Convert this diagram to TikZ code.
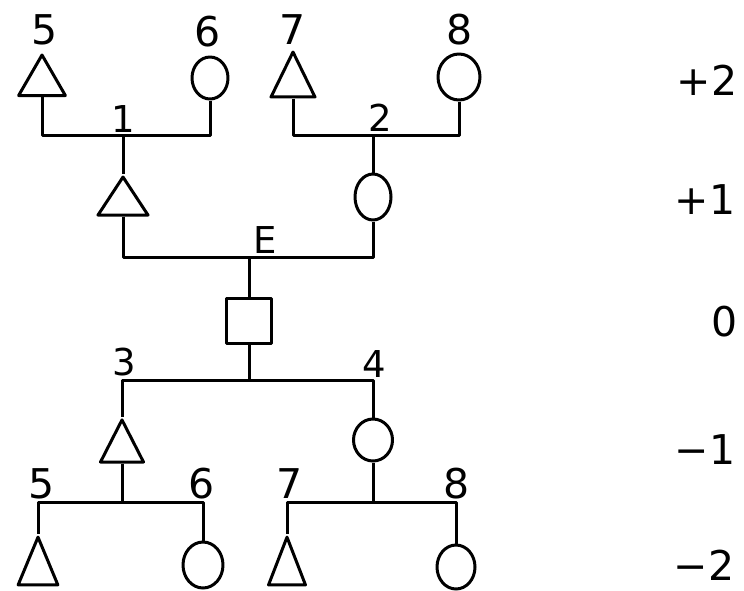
\documentclass[tikz,border=0pt]{standalone}
\usepackage{fontspec}
\setmainfont{DejaVu Sans}
\usetikzlibrary{shapes.geometric}
\begin{document}
\begin{tikzpicture}[x=1pt,y=-1pt,
  line width=3pt, line join=round,
  male/.style={draw, regular polygon, regular polygon sides=3,
    minimum size=54pt, inner sep=0pt},
  female/.style={draw, ellipse, inner sep=0pt},
  ego/.style={draw, rectangle, inner sep=0pt, minimum width=45pt, minimum height=45pt},
  lbl/.style={inner sep=0pt, font=\fontsize{41}{41}\selectfont},
  slbl/.style={inner sep=0pt, font=\fontsize{37}{37}\selectfont}]
\useasboundingbox (0,0) rectangle (744,590);

% generation +2
\node[male] (t5a) at (42,82) {};
\node[female, minimum width=36pt, minimum height=42pt] (c6a) at (210,78) {};
\node[male, xscale=0.94, yscale=1.11] (t7a) at (293,82) {};
\node[female, minimum width=42pt, minimum height=46pt] (c8a) at (459,77) {};

% generation +1
\node[male, xscale=1.07, yscale=0.94] (t1) at (123,202.4) {};
\node[female, minimum width=36pt, minimum height=46pt] (c2) at (373,197) {};

% ego
\node[ego] (ego) at (249,320.5) {};

% generation -1
\node[male, xscale=0.92, yscale=1.04] (t3) at (122,448) {};
\node[female, minimum width=39pt, minimum height=42pt] (c4) at (373,440) {};

% generation -2
\node[male, xscale=0.85, yscale=1.18] (t5b) at (38,569) {};
\node[female, minimum width=40pt, minimum height=46pt] (c6b) at (203,565) {};
\node[male, xscale=0.79, yscale=1.18] (t7b) at (287,569) {};
\node[female, minimum width=38pt, minimum height=44pt] (c8b) at (456,567) {};

% junction points
\coordinate (j1) at (123,135);
\coordinate (j2) at (373,135);
\coordinate (jE) at (249,257);
\coordinate (j0) at (249,380);
\coordinate (j3) at (122,502);
\coordinate (j4) at (373,502);

% connectors
\draw (t5a.side 2) |- (j1) -| (c6a.south);
\draw (t7a.side 2) |- (j2) -| (c8a.south);
\draw (j1) -- (t1.corner 1);
\draw (j2) -- (c2.north);
\draw (t1.side 2) |- (jE) -| (c2.south);
\draw (jE) -- (ego.north);
\draw (ego.south) -- (j0);
\draw (t3.corner 1) |- (j0) -| (c4.north);
\draw (t3.side 2) -- (j3);
\draw (c4.south) -- (j4);
\draw (t5b.corner 1) |- (j3) -| (c6b.north);
\draw (t7b.corner 1) |- (j4) -| (c8b.north);

% labels
\node[lbl] (l5a) at (45,30) {5};
\node[lbl] (l6a) at (208,32) {6};
\node[lbl] (l7a) at (293,30) {7};
\node[lbl] (l8a) at (460,30) {8};
\node[slbl] (l1) at (123,119) {1};
\node[slbl] (l2) at (380,118) {2};
\node[slbl] (lE) at (265,240) {E};
\node[slbl] (l3) at (124,362) {3};
\node[slbl] (l4) at (374,364) {4};
\node[lbl] (l5b) at (42,484) {5};
\node[lbl] (l6b) at (202,484) {6};
\node[lbl] (l7b) at (290,484) {7};
\node[lbl] (l8b) at (457,484) {8};

% generation scale
\node[lbl] (gp2) at (707,80) {+2};
\node[lbl] (gp1) at (705,200) {+1};
\node[lbl] (g0) at (725,322) {0};
\node[lbl] (gm1) at (705,450) {−1};
\node[lbl] (gm2) at (704,565) {−2};
\end{tikzpicture}
\end{document}
